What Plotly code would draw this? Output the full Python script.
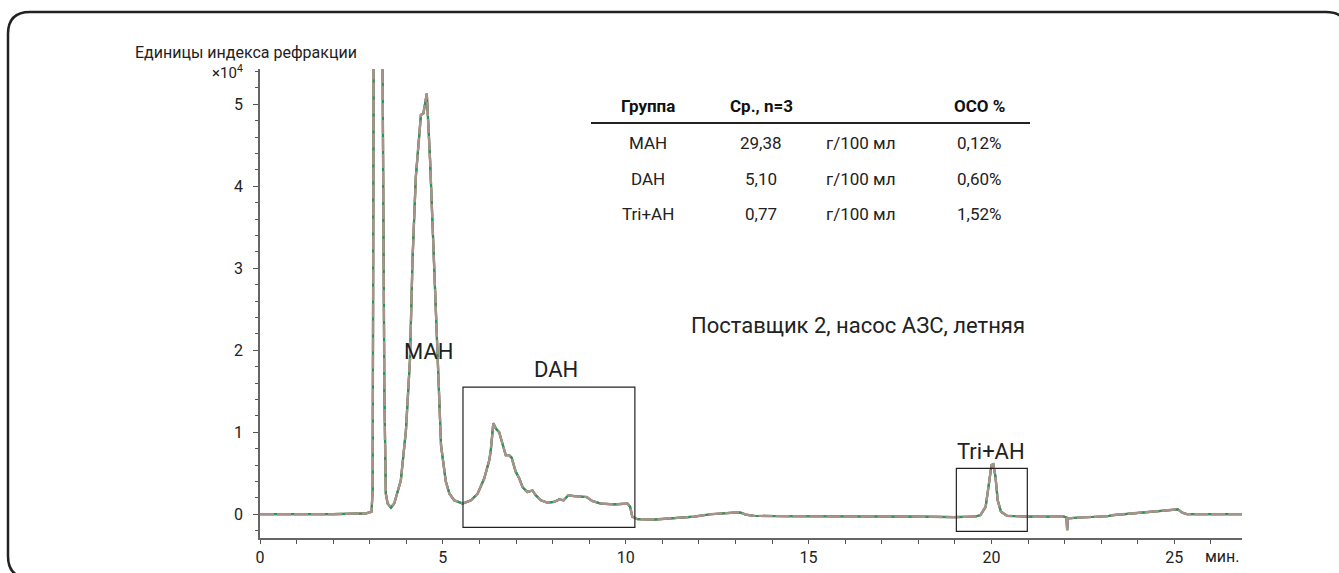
import plotly.graph_objects as go

# ---------------- data (signal in units of 10^4) ----------------
time_min = [0.0, 1.0, 2.0, 2.9, 3.05, 3.08, 3.11, 3.2, 3.3, 3.35, 3.40, 3.44, 3.49,
            3.58, 3.67, 3.85, 3.99, 4.10, 4.17, 4.26, 4.40, 4.47, 4.56, 4.65, 4.76,
            4.87, 4.95, 5.08, 5.18, 5.31, 5.54, 5.77, 5.95, 6.13, 6.27, 6.31, 6.38,
            6.45, 6.54, 6.63, 6.72, 6.81, 6.88, 6.99, 7.09, 7.18, 7.31, 7.45, 7.54,
            7.68, 7.86, 8.04, 8.18, 8.30, 8.43, 8.59, 8.77, 8.93, 9.09, 9.32, 9.68,
            10.05, 10.12, 10.18, 10.32, 10.77, 11.87, 12.32, 12.96, 13.14, 13.28,
            13.51, 14.42, 16.24, 18.06, 18.97, 19.55, 19.70, 19.84, 19.93, 20.00,
            20.05, 20.11, 20.17, 20.26, 20.43, 21.07, 21.98, 22.05, 22.07, 22.09,
            22.43, 23.16, 23.34, 24.25, 24.98, 25.10, 25.21, 25.35, 26.08, 26.85]
signal_1e4 = [0.0, 0.0, 0.0, 0.01, 0.03, 0.3, 6.0, 12.0, 10.0, 5.6, 1.5, 0.25, 0.13,
              0.08, 0.13, 0.41, 1.02, 1.88, 3.10, 4.11, 4.87, 4.89, 5.13, 4.32, 3.10,
              1.80, 0.84, 0.40, 0.25, 0.17, 0.13, 0.17, 0.25, 0.435, 0.66, 0.78, 1.11,
              1.045, 1.00, 0.86, 0.72, 0.72, 0.69, 0.52, 0.435, 0.33, 0.27, 0.29, 0.23,
              0.17, 0.14, 0.15, 0.18, 0.17, 0.23, 0.22, 0.21, 0.21, 0.16, 0.13, 0.12,
              0.13, 0.09, -0.03, -0.06, -0.065, -0.03, 0.0, 0.02, 0.02, -0.005,
              -0.02, -0.025, -0.025, -0.03, -0.035, -0.03, -0.01, 0.09, 0.37, 0.60,
              0.61, 0.455, 0.17, 0.03, -0.02, -0.03, -0.03, -0.04, -0.195, -0.05,
              -0.04, -0.025, -0.01, 0.03, 0.06, 0.06, 0.02, 0.0, 0.0, 0.0]

run_names = ["Прогон 1", "Прогон 2", "Прогон 3"]
run_colors = ["#c0504d", "#1f9a5a", "#a8928c"]

x_ticks = [0, 5, 10, 15, 20, 25]
y_ticks = [0, 1, 2, 3, 4, 5]

# table
tbl_header = ["Группа", "Ср., n=3", "", "ОСО %"]
tbl_groups = ["MAH", "DAH", "Tri+AH"]
tbl_means = ["29,38", "5,10", "0,77"]
tbl_units = ["г/100 мл", "г/100 мл", "г/100 мл"]
tbl_rsd = ["0,12%", "0,60%", "1,52%"]

# highlighted regions: (label, x0, x1, y0, y1)
regions = [("DAH", 5.55, 10.25, -0.16, 1.55), ("Tri+AH", 19.04, 20.98, -0.21, 0.56)]

FONT = "Roboto, 'Liberation Sans', sans-serif"
W, H = 1339, 573
L, R, T, B = 260, 1242, 69, 538  # plot area in screen pixels


def px(x):
    return (x - L) / (R - L)


def py(y):
    return (B - y) / (B - T)


fig = go.Figure()
fig.add_trace(go.Scatter(x=time_min, y=signal_1e4, mode="lines", name=run_names[0],
                         line=dict(color=run_colors[0], width=2.2)))
fig.add_trace(go.Scatter(x=time_min, y=signal_1e4, mode="lines", name=run_names[1],
                         line=dict(color=run_colors[1], width=2.2)))
fig.add_trace(go.Scatter(x=time_min, y=signal_1e4, mode="lines", name=run_names[2],
                         line=dict(color=run_colors[2], width=2.4, dash="14px,3px")))

shapes = []
annotations = []


def note(text, x, y, size, ref="paper", xanchor="center", color="#222"):
    annotations.append(dict(text=text, x=x, y=y, xref=ref, yref=ref, showarrow=False,
                            xanchor=xanchor, yanchor="middle",
                            font=dict(family=FONT, size=size, color=color)))


# region boxes + labels
for (lab, x0, x1, y0, y1) in regions:
    shapes.append(dict(type="rect", xref="x", yref="y", x0=x0, x1=x1, y0=y0, y1=y1,
                       line=dict(color="#222", width=1.2), fillcolor="rgba(0,0,0,0)"))
note("MAH", 4.62, 1.98, 22, ref="x")
note(regions[0][0], 8.09, 1.77, 22, ref="x")
note(regions[1][0], 20.0, 0.77, 22, ref="x")
for a in annotations:
    a["xref"], a["yref"] = "x", "y"

# sample description
note("Поставщик 2, насос АЗС, летняя", px(858), py(326), 22)

# axis title and multiplier
note("Единицы индекса рефракции", px(133), py(52), 16, xanchor="left")
note("×10<sup>4</sup>", px(245), py(72), 15, xanchor="right")
note("мин.", px(1222), py(556), 16)

# table
col_x = [648, 761, 860, 979]
row_y = [143, 179, 214]
for cx, h in zip(col_x, tbl_header):
    if h:
        note("<b>" + h + "</b>", px(cx), py(106), 17, color="#111")
for i in range(len(tbl_groups)):
    for cx, val in zip(col_x, [tbl_groups[i], tbl_means[i], tbl_units[i], tbl_rsd[i]]):
        note(val, px(cx), py(row_y[i]), 17)
shapes.append(dict(type="line", xref="paper", yref="paper", x0=px(591), x1=px(1030),
                   y0=py(123), y1=py(123), line=dict(color="#222", width=2.2)))

# rounded frame around the whole picture (cropped at right and bottom)
fx0, fx1, fy0, fy1, rad = 8, 1348, 12, 578, 22
p = (f"M {px(fx0 + rad)},{py(fy0)} L {px(fx1 - rad)},{py(fy0)} "
     f"Q {px(fx1)},{py(fy0)} {px(fx1)},{py(fy0 + rad)} "
     f"L {px(fx1)},{py(fy1 - rad)} Q {px(fx1)},{py(fy1)} {px(fx1 - rad)},{py(fy1)} "
     f"L {px(fx0 + rad)},{py(fy1)} Q {px(fx0)},{py(fy1)} {px(fx0)},{py(fy1 - rad)} "
     f"L {px(fx0)},{py(fy0 + rad)} Q {px(fx0)},{py(fy0)} {px(fx0 + rad)},{py(fy0)} Z")
shapes.append(dict(type="path", xref="paper", yref="paper", path=p,
                   line=dict(color="#222", width=2.5), fillcolor="rgba(0,0,0,0)", layer="above"))

fig.update_layout(
    width=W, height=H, autosize=False,
    margin=dict(l=L, r=W - R, t=T, b=H - B, pad=0, autoexpand=False),
    paper_bgcolor="white", plot_bgcolor="white",
    showlegend=False,
    shapes=shapes, annotations=annotations,
    font=dict(family=FONT, size=16, color="#222"),
    xaxis=dict(range=[0, 26.85], tickvals=x_ticks, ticks="outside", ticklen=4,
               tickcolor="#555", showline=True, linecolor="#666", linewidth=1.5,
               showgrid=False, zeroline=False, tickfont=dict(size=16), automargin=False,
               minor=dict(dtick=1, ticks="outside", ticklen=4, tickcolor="#555")),
    yaxis=dict(range=[-0.29, 5.43], tickvals=y_ticks, ticks="outside", ticklen=5,
               tickcolor="#555", showline=True, linecolor="#666", linewidth=1.5,
               showgrid=False, zeroline=False, tickfont=dict(size=16), automargin=False,
               ticklabelstandoff=7,
               minor=dict(dtick=0.2, tick0=0, ticks="outside", ticklen=3, tickcolor="#555")),
)

fig.write_html(
    "out.html",
    config={"displayModeBar": False},
    post_script="document.body.style.margin='0';document.body.style.overflow='hidden';"
                "document.documentElement.style.overflow='hidden';",
)
